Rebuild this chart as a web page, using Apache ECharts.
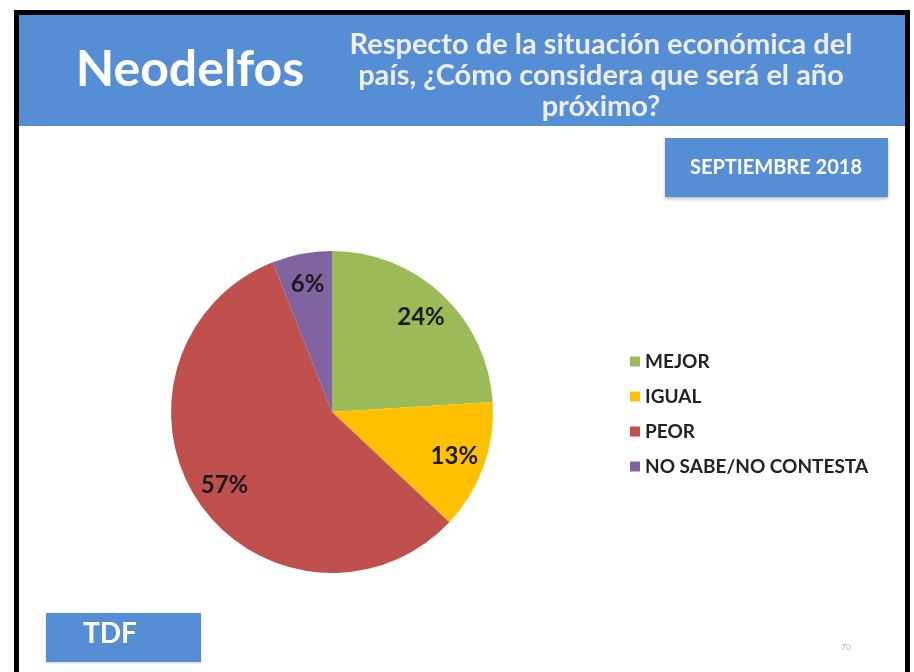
<!DOCTYPE html>
<html>
<head>
<meta charset="utf-8">
<script src="https://cdn.jsdelivr.net/npm/echarts@6/dist/echarts.min.js"></script>
<style>
  html, body { margin: 0; padding: 0; background: #fff; }
  #chart { width: 914px; height: 672px; }
</style>
</head>
<body>
<div id="chart"></div>
<script>
// datos del gráfico
var categorias = ['MEJOR', 'IGUAL', 'PEOR', 'NO SABE/NO CONTESTA'];
var valores = [24, 13, 57, 6];
var colores = ['#9BBB59', '#FFC000', '#C0504D', '#8064A2'];

var titulo = 'Neodelfos';
var pregunta = 'Respecto de la situación económica del\npaís, ¿Cómo considera que será el año\npróximo?';
var fecha = 'SEPTIEMBRE 2018';
var fuente = 'TDF';

var azul = '#558ED5';

var datos = categorias.map(function (c, i) {
  return { name: c, value: valores[i], itemStyle: { color: colores[i] } };
});

var myChart = echarts.init(document.getElementById('chart'));
myChart.setOption({
  animation: false,
  backgroundColor: '#fff',
  legend: {
    orient: 'vertical',
    left: 625,
    top: 347,
    icon: 'rect',
    itemWidth: 10,
    itemHeight: 10,
    itemGap: 16,
    data: categorias,
    textStyle: { fontFamily: 'Lato', fontWeight: 'bold', fontSize: 19, color: '#222' }
  },
  graphic: [
    // marco negro
    { type: 'rect', shape: { x: 16.5, y: 12.5, width: 891, height: 700 },
      style: { fill: 'none', stroke: '#000', lineWidth: 5 }, z: 10 },
    // cabecera
    { type: 'rect', shape: { x: 19, y: 15, width: 886, height: 111 }, style: { fill: azul } },
    { type: 'text', x: 190, y: 70,
      style: { text: titulo, font: 'bold 50px Lato', fill: '#fff',
        align: 'center', verticalAlign: 'middle', textAlign: 'center', textVerticalAlign: 'middle',
        shadowColor: 'rgba(0,0,0,0.6)', shadowBlur: 4, shadowOffsetX: 2, shadowOffsetY: 2 } },
    { type: 'text', x: 601, y: 76,
      style: { text: pregunta, font: 'bold 29px Lato', fill: '#eeeeee', lineHeight: 31,
        align: 'center', verticalAlign: 'middle', textAlign: 'center', textVerticalAlign: 'middle',
        shadowColor: 'rgba(0,0,0,0.5)', shadowBlur: 3, shadowOffsetX: 1, shadowOffsetY: 1 } },
    // recuadro de fecha
    { type: 'rect', shape: { x: 665, y: 138, width: 223, height: 59 },
      style: { fill: azul, shadowColor: 'rgba(0,0,0,0.25)', shadowBlur: 3, shadowOffsetY: 2 } },
    { type: 'text', x: 776, y: 168,
      style: { text: fecha, font: 'bold 20px Lato', fill: '#fff',
        align: 'center', verticalAlign: 'middle', textAlign: 'center', textVerticalAlign: 'middle' } },
    // fuente
    { type: 'rect', shape: { x: 46, y: 613, width: 155, height: 49 },
      style: { fill: azul, shadowColor: 'rgba(0,0,0,0.2)', shadowBlur: 2, shadowOffsetY: 1 } },
    { type: 'text', x: 110, y: 634,
      style: { text: fuente, font: 'bold 28px Lato', fill: '#fff',
        align: 'center', verticalAlign: 'middle', textAlign: 'center', textVerticalAlign: 'middle' } },
    { type: 'text', x: 846, y: 647,
      style: { text: '70', font: '8px Lato', fill: '#aaa',
        align: 'center', verticalAlign: 'middle', textAlign: 'center', textVerticalAlign: 'middle' } }
  ],
  series: [
    {
      type: 'pie',
      center: [332, 412],
      radius: 161,
      startAngle: 90,
      clockwise: true,
      label: { show: false },
      labelLine: { show: false },
      itemStyle: { borderWidth: 0 },
      emphasis: { disabled: true },
      data: datos
    },
    {
      // capa transparente solo para las etiquetas
      type: 'pie',
      center: [332, 412],
      radius: [93, 161],
      startAngle: 90,
      clockwise: true,
      silent: true,
      itemStyle: { color: 'transparent', borderWidth: 0 },
      emphasis: { disabled: true },
      label: {
        show: true,
        position: 'inside',
        formatter: '{c}%',
        fontFamily: 'Lato',
        fontWeight: 'bold',
        fontSize: 24,
        color: '#1a1a1a'
      },
      data: categorias.map(function (c, i) { return { name: c, value: valores[i] }; })
    }
  ]
});
</script>
</body>
</html>
